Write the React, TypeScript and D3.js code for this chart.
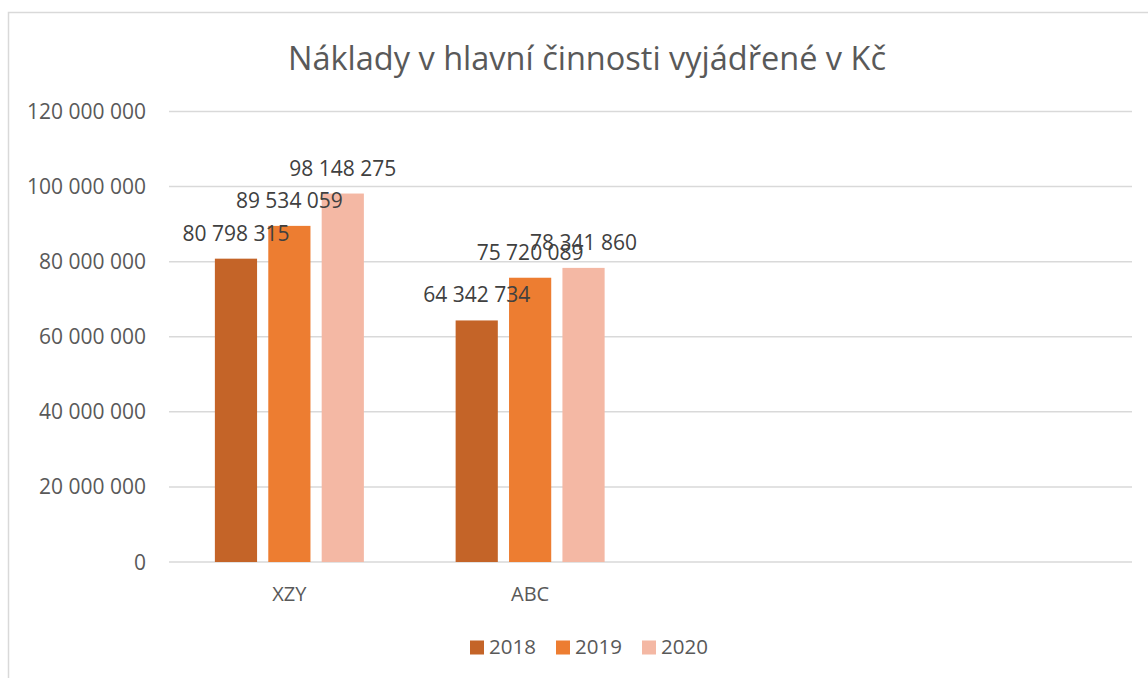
import React from "react";
import * as d3 from "d3";

const categories = ["XZY", "ABC", "", " "];
const seriesNames = ["2018", "2019", "2020"];
const values2018 = [80798315, 64342734];
const values2019 = [89534059, 75720089];
const values2020 = [98148275, 78341860];
const yTicks = [0, 20000000, 40000000, 60000000, 80000000, 100000000, 120000000];
const colors = ["#C46428", "#ED7D31", "#F4B8A4"];
const title = "Náklady v hlavní činnosti vyjádřené v Kč";

const W = 1148;
const H = 678;
const FONT = "'Open Sans', 'Segoe UI', sans-serif";

function fmt(v: number): string {
  const s = Math.round(v).toString();
  return s.replace(/\B(?=(\d{3})+(?!\d))/g, " ");
}

export default function App() {
  const plotLeft = 169;
  const plotRight = 1132;
  const plotTop = 111.5;
  const plotBottom = 562;

  const x = d3.scaleBand<string>().domain(categories).range([plotLeft, plotRight]).paddingInner(0).paddingOuter(0);
  const groupW = 149;
  const xs = d3
    .scaleBand<string>()
    .domain(seriesNames)
    .range([0, groupW])
    .paddingInner(0.21)
    .paddingOuter(0);
  const y = d3.scaleLinear().domain([0, 120000000]).range([plotBottom, plotTop]);

  const series = [values2018, values2019, values2020];

  type Bar = { key: string; x: number; w: number; v: number; si: number };
  const bars: Bar[] = [];
  categories.forEach((c, ci) => {
    const gx = (x(c) as number) + (x.bandwidth() - groupW) / 2;
    series.forEach((s, si) => {
      const v = s[ci];
      if (v === undefined) return;
      bars.push({ key: `${ci}-${si}`, x: gx + (xs(seriesNames[si]) as number), w: xs.bandwidth(), v, si });
    });
  });

  const legendItems = [
    { name: seriesNames[0], sx: 470, tx: 489 },
    { name: seriesNames[1], sx: 556, tx: 575 },
    { name: seriesNames[2], sx: 642, tx: 661 },
  ];

  return (
    <svg
      width={W}
      height={H}
      style={{ position: "absolute", left: 0, top: 0, background: "#fff" }}
      fontFamily={FONT}
    >
      <rect x={8.5} y={12.5} width={1160} height={700} fill="#fff" stroke="#D9D9D9" strokeWidth={1.5} />
      <text x={587} y={70} textAnchor="middle" fontSize={32.5} fill="#595959">
        {title}
      </text>
      {yTicks.map((t) => (
        <g key={t}>
          <line x1={plotLeft} x2={plotRight} y1={y(t)} y2={y(t)} stroke="#D9D9D9" strokeWidth={1.5} />
          <text x={146} y={y(t) + 7.5} textAnchor="end" fontSize={21} fill="#595959">
            {fmt(t)}
          </text>
        </g>
      ))}
      {categories.map((c, ci) =>
        c.trim() !== "" ? (
          <text key={ci} x={(x(c) as number) + x.bandwidth() / 2} y={600.5} textAnchor="middle" fontSize={20} fill="#595959">
            {c}
          </text>
        ) : null
      )}
      {bars.map((b) => (
        <rect key={b.key} x={b.x} y={y(b.v)} width={b.w} height={y(0) - y(b.v)} fill={colors[b.si]} />
      ))}
      {bars.map((b) => (
        <text key={"l" + b.key} x={b.x + b.w / 2} y={y(b.v) - 18} textAnchor="middle" fontSize={21} fill="#404040">
          {fmt(b.v)}
        </text>
      ))}
      {legendItems.map((l, i) => (
        <g key={l.name}>
          <rect x={l.sx} y={640.5} width={14} height={14} fill={colors[i]} />
          <text x={l.tx} y={654} fontSize={20.5} fill="#595959">
            {l.name}
          </text>
        </g>
      ))}
    </svg>
  );
}
